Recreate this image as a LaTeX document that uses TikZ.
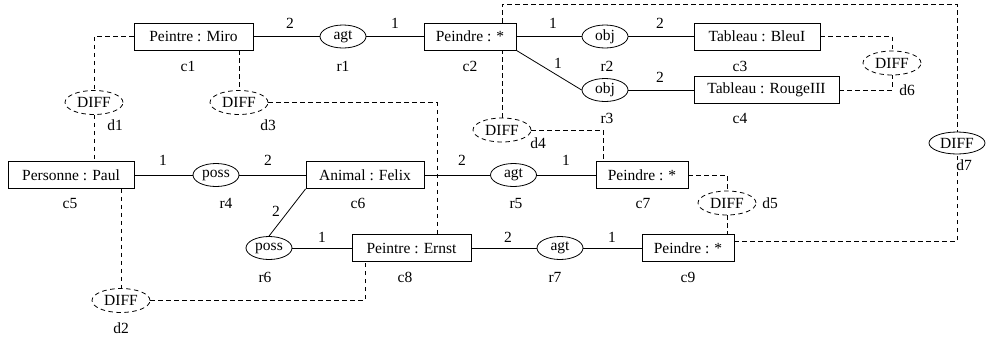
\documentclass[tikz,border=0pt]{standalone}
\usepackage{fontspec}
\setmainfont{Liberation Serif}
\usetikzlibrary{shapes.geometric}
\begin{document}
\begin{tikzpicture}[x=1pt,y=-1pt,line width=0.8pt,
  every node/.style={font=\fontsize{15.5}{18}\selectfont},
  cbox/.style={draw,fill=white,rectangle,minimum height=27pt,inner sep=0pt},
  rel/.style={draw,fill=white,ellipse,minimum width=46pt,minimum height=23pt,inner sep=0pt},
  dl/.style={dash pattern=on 4.5pt off 3.5pt},
  diff/.style={draw,fill=white,ellipse,dl,minimum width=58pt,minimum height=24pt,inner sep=0pt},
  lab/.style={inner sep=0pt}]
\useasboundingbox (0,0) rectangle (987,343);
\coordinate (tp) at (0,4);
% concept boxes
\node[cbox,minimum width=119pt] (c1) at (193.5,36.5) {Peintre : Miro};
\node[cbox,minimum width=92pt] (c2) at (470,36.5) {Peindre : *};
\node[cbox,minimum width=126pt] (c3) at (757,36.5) {Tableau : BleuI};
\node[cbox,minimum width=145pt] (c4) at (766.5,90) {Tableau : RougeIII};
\node[cbox,minimum width=126pt] (c5) at (71,175) {Personne : Paul};
\node[cbox,minimum width=118pt] (c6) at (365,175) {Animal : Felix};
\node[cbox,minimum width=92pt] (c7) at (642,175) {Peindre : *};
\node[cbox,minimum width=119pt] (c8) at (411.5,248) {Peintre : Ernst};
\node[cbox,minimum width=92pt] (c9) at (688,248) {Peindre : *};
% relations
\node[rel] (r1) at (343,36.5) {agt};
\node[rel] (r2) at (605,36.5) {obj};
\node[rel] (r3) at (605,90) {obj};
\node[rel] (r4) at (216,175) {poss};
\node[rel] (r5) at (513.5,175) {agt};
\node[rel] (r6) at (269,248) {poss};
\node[rel] (r7) at (560,248) {agt};
% DIFF
\node[diff] (d1) at (94,102.5) {DIFF};
\node[diff] (d2) at (121,300.5) {DIFF};
\node[diff] (d3) at (239,102.5) {DIFF};
\node[diff] (d4) at (502,130) {DIFF};
\node[diff] (d5) at (727,203) {DIFF};
\node[diff] (d6) at (892,63) {DIFF};
\node[draw,fill=white,ellipse,minimum width=56pt,minimum height=22pt,inner sep=0pt] (d7) at (957,143) {DIFF};
% labels
\node[lab] (lc1) at (188,66) {c1};
\node[lab] (lc2) at (470,66) {c2};
\node[lab] (lc3) at (740,66) {c3};
\node[lab] (lc4) at (740,118) {c4};
\node[lab] (lc5) at (70,203) {c5};
\node[lab] (lc6) at (358,203) {c6};
\node[lab] (lc7) at (643,203) {c7};
\node[lab] (lc8) at (405,277) {c8};
\node[lab] (lc9) at (688,277) {c9};
\node[lab] (lr1) at (343,66) {r1};
\node[lab] (lr2) at (607,66) {r2};
\node[lab] (lr3) at (607,118) {r3};
\node[lab] (lr4) at (226,203) {r4};
\node[lab] (lr5) at (516,203) {r5};
\node[lab] (lr6) at (265,277) {r6};
\node[lab] (lr7) at (555,277) {r7};
\node[lab] (ld1) at (115,125) {d1};
\node[lab] (ld2) at (121,328) {d2};
\node[lab] (ld3) at (268,125) {d3};
\node[lab] (ld4) at (538,143) {d4};
\node[lab] (ld5) at (770,203) {d5};
\node[lab] (ld6) at (907,90) {d6};
\node[lab] (ld7) at (964,165) {d7};
% edge numbers
\node[lab] (e1) at (290,23) {2};
\node[lab] (e2) at (395,23) {1};
\node[lab] (e3) at (553,23) {1};
\node[lab] (e4) at (660,23) {2};
\node[lab] (e5) at (558,63) {1};
\node[lab] (e6) at (660,77) {2};
\node[lab] (e7) at (163,160) {1};
\node[lab] (e8) at (268,160) {2};
\node[lab] (e9) at (462,160) {2};
\node[lab] (e10) at (566,160) {1};
\node[lab] (e11) at (276,211) {2};
\node[lab] (e12) at (322,237) {1};
\node[lab] (e13) at (508,237) {2};
\node[lab] (e14) at (612,237) {1};
% solid connectors
\draw (c1.east) -- (r1.west);
\draw (r1.east) -- (c2.west);
\draw (c2.east) -- (r2.west);
\draw (c2.south east) -- (r3.west);
\draw (r2.east) -- (c3.west);
\draw (r3.east) -- (c4.west);
\draw (c5.east) -- (r4.west);
\draw (r4.east) -- (c6.west);
\draw (c6.east) -- (r5.west);
\draw (r5.east) -- (c7.west);
\draw (c6.south west) -- (r6.north);
\draw (r6.east) -- (c8.west);
\draw (c8.east) -- (r7.west);
\draw (r7.east) -- (c9.west);
% dashed connectors
\draw[dl] (c1.west) -| (d1.north);
\draw[dl] (d1.south) -- (d1.south |- c5.north);
\draw[dl] (d3.north |- c1.south) -- (d3.north);
\draw[dl] (d3.east) -| ([xshift=25.5pt]c8.north);
\draw[dl] (d2.north |- c5.south) -- (d2.north);
\draw[dl] (d2.east) -| ([xshift=-46.5pt]c8.south);
\draw[dl] (d4.north) -- (d4.north |- c2.south);
\draw[dl] (d4.north |- c2.north) -- (d4.north |- tp) -| (d7.north);
\draw[dl] (d4.east) -| ([xshift=-39pt]c7.north);
\draw[dl] (c7.east) -| (d5.north);
\draw[dl] (d5.south) -- (d5.south |- c9.north);
\draw[dl] ([yshift=6.5pt]c9.east) -| (d7.south);
\draw[dl] (c3.east) -| (d6.north);
\draw[dl] (c4.east) -| (d6.south);
\end{tikzpicture}
\end{document}
